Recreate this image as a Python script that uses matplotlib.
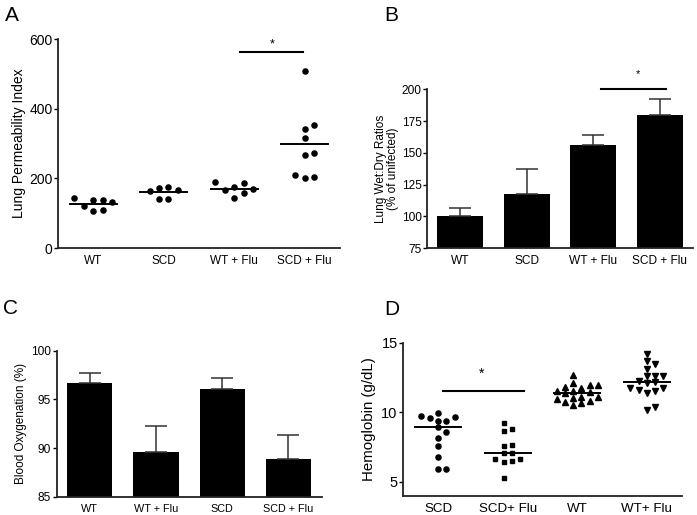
import numpy as np
import matplotlib
matplotlib.use('Agg')
import matplotlib.pyplot as plt

plt.rcParams['font.family'] = ['Liberation Sans', 'DejaVu Sans']

# A - lung permeability (dot plot, line = mean)
permGroups = ['WT', 'SCD', 'WT + Flu', 'SCD + Flu']
permWT = [120, 139, 106, 137, 108, 143, 131]
permSCD = [163, 174, 141, 172, 142, 166]
permWTFlu = [166, 188, 144, 176, 159, 190, 169]
permSCDFlu = [509, 354, 342, 316, 274, 268, 210, 202, 205]

# B - wet:dry ratios (bars + SEM)
wetGroups = ['WT', 'SCD', 'WT + Flu', 'SCD + Flu']
wetMean = [100, 118, 156, 180]
wetErr = [7, 19, 8, 12]

# C - blood oxygenation
oxyGroups = ['WT', 'WT + Flu', 'SCD', 'SCD + Flu']
oxyMean = [96.65, 89.6, 96.1, 88.85]
oxyErr = [1.05, 2.65, 1.05, 2.45]

# D - hemoglobin (dot plot, line = median)
hbGroups = ['SCD', 'SCD+ Flu', 'WT', 'WT+ Flu']
hbSCD = [9.96, 9.63, 9.56, 9.73, 9.37, 9.37, 8.91, 8.55, 8.12, 7.55, 6.76, 5.94, 5.94]
hbSCDFlu = [9.24, 8.67, 8.77, 7.55, 7.62, 7.04, 7.04, 6.66, 6.66, 6.51, 6.42, 5.24]
hbWT = [12.68, 12.12, 11.93, 11.76, 11.83, 11.96, 11.55, 11.43, 11.12, 11.12,
        11.36, 11.55, 10.93, 10.73, 10.52, 10.64, 10.83, 11.02]
hbWTFlu = [14.19, 13.47, 13.68, 13.08, 12.6, 12.6, 12.6, 12.27, 11.76, 11.6,
           12.15, 12.08, 11.4, 11.55, 11.76, 10.16, 10.35]


def swarm(ax, xc, vals, sx, sy):
    # rough graphpad-like scatter: box collision in pixels, half-step columns
    vals = np.asarray(vals, float)
    pts = ax.transData.transform(np.column_stack([np.full(len(vals), xc), vals]))
    placed = []
    xs = np.zeros(len(vals))
    for i in np.argsort(vals):
        y = pts[i, 1]
        k = 0
        found = None
        while found is None:
            offs = [0.0] if k == 0 else [k * sx / 2, -k * sx / 2]
            for o in offs:
                if all(abs(o - px) > sx - 0.2 or abs(y - py) > sy for px, py in placed):
                    found = o
                    break
            k += 1
        placed.append((found, y))
        xs[i] = found
    xs = xs - (xs.max() + xs.min()) / 2 + pts[:, 0]
    back = ax.transData.inverted().transform(np.column_stack([xs, pts[:, 1]]))
    return back[:, 0]


def style(ax, yticks, tsize, xsize):
    for s in ['top', 'right']:
        ax.spines[s].set_visible(False)
    for s in ['left', 'bottom']:
        ax.spines[s].set_linewidth(1.3)
        ax.spines[s].set_color('#222222')
    ax.set_yticks(yticks)
    ax.tick_params(axis='y', length=3, width=1, labelsize=tsize, pad=1)
    ax.tick_params(axis='x', length=0, labelsize=xsize, pad=5)


fig = plt.figure(figsize=(6.97, 5.15), dpi=100)

# ---- A ----
axA = fig.add_axes([0.0832, 0.5184, 0.4046, 0.4058])
axA.set_xlim(-0.5, 3.5)
axA.set_ylim(0, 600)
style(axA, [0, 200, 400, 600], 10, 8.5)
axA.set_xticks(range(4))
axA.set_xticklabels(permGroups)
axA.set_ylabel('Lung Permeability Index', fontsize=10, labelpad=2)
for i, g in enumerate([permWT, permSCD, permWTFlu, permSCDFlu]):
    xs = swarm(axA, i, g, 9.4, 9)
    axA.plot(xs, g, 'o', color='black', ms=3.7, clip_on=False)
    m = np.mean(g)
    axA.plot([i - 0.33, i + 0.33], [m, m], color='black', lw=1.4)
axA.plot([2.08, 2.98], [564, 564], color='black', lw=1.5, clip_on=False)
axA.text(2.54, 585, '*', ha='center', va='center', fontsize=9)

# ---- B ----
axB = fig.add_axes([0.6126, 0.5179, 0.3816, 0.3087])
axB.set_xlim(-0.5, 3.5)
axB.set_ylim(75, 200)
style(axB, [75, 100, 125, 150, 175, 200], 8.6, 8.6)
axB.bar(range(4), wetMean, width=0.69, color='black', bottom=0)
axB.errorbar(range(4), wetMean, yerr=[np.zeros(4), wetErr], fmt='none',
             ecolor='#333333', elinewidth=1.1, capsize=8, capthick=1.1)
axB.set_xticks(range(4))
axB.set_xticklabels(wetGroups)
axB.set_ylabel('Lung Wet:Dry Ratios\n(% of unifected)', fontsize=8.5, labelpad=2, linespacing=1.0)
axB.plot([2.12, 3.1], [200.4, 200.4], color='black', lw=1.5, clip_on=False)
axB.text(2.68, 212, '*', ha='center', va='center', fontsize=8)

# ---- C ----
axC = fig.add_axes([0.0813, 0.0355, 0.380, 0.2835])
axC.set_xlim(-0.5, 3.5)
axC.set_ylim(85, 100)
style(axC, [85, 90, 95, 100], 8.6, 7.8)
axC.bar(range(4), oxyMean, width=0.68, color='black', bottom=0)
axC.errorbar(range(4), oxyMean, yerr=[np.zeros(4), oxyErr], fmt='none',
             ecolor='#333333', elinewidth=1.1, capsize=8, capthick=1.1)
axC.set_xticks(range(4))
axC.set_xticklabels(oxyGroups)
axC.set_ylabel('Blood Oxygenation (%)', fontsize=8.5, labelpad=3)

# ---- D ----
axD = fig.add_axes([0.5786, 0.0375, 0.3994, 0.2971])
axD.set_xlim(-0.5, 3.5)
axD.set_ylim(4, 15)
style(axD, [5, 10, 15], 10.5, 9.6)
axD.set_xticks(range(4))
axD.set_xticklabels(hbGroups)
axD.set_ylabel('Hemoglobin (g/dL)', fontsize=10.8, labelpad=4)
markers = ['o', 's', '^', 'v']
sizes = [3.7, 3.4, 3.7, 3.7]
for i, g in enumerate([hbSCD, hbSCDFlu, hbWT, hbWTFlu]):
    xs = swarm(axD, i, g, 8.3, 6)
    axD.plot(xs, g, markers[i], color='black', ms=sizes[i], clip_on=False)
    m = np.median(g)
    axD.plot([i - 0.33, i + 0.33], [m, m], color='black', lw=1.4)
axD.plot([0.07, 1.24], [11.53, 11.53], color='black', lw=1.5)
axD.text(0.63, 12.75, '*', ha='center', va='center', fontsize=10)

# panel letters
fig.text(5 / 697, 1 - 21 / 515, 'A', fontsize=15)
fig.text(384 / 697, 1 - 21 / 515, 'B', fontsize=15)
fig.text(3 / 697, 1 - 314 / 515, 'C', fontsize=15)
fig.text(384 / 697, 1 - 315 / 515, 'D', fontsize=15)

fig.savefig('out.png', dpi=100)
